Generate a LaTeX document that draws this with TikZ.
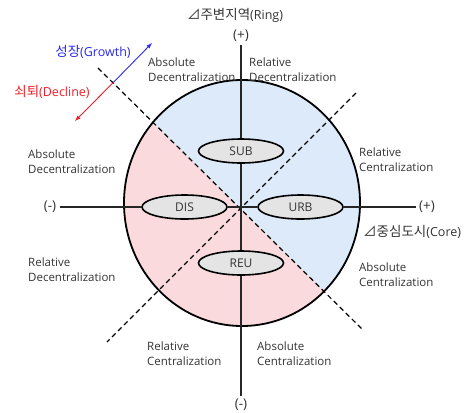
\documentclass[tikz,border=0pt]{standalone}
\usepackage{fontspec}
\setmainfont{Open Sans}
\newfontfamily\kr{Noto Sans CJK KR}
\usetikzlibrary{shapes.geometric}
\definecolor{ringblue}{RGB}{220,234,250}
\definecolor{corepink}{RGB}{250,218,220}
\definecolor{regiongray}{RGB}{228,228,228}
\definecolor{growthblue}{RGB}{40,40,240}
\definecolor{declinered}{RGB}{240,30,40}
\newcommand{\krtext}[1]{{\kr\fontsize{13.5}{15}\selectfont #1}}

\begin{document}
\begin{tikzpicture}[x=1pt, y=-1pt, font=\fontsize{11.5}{15}\selectfont,
  region/.style={ellipse, draw, line width=1.6pt, fill=regiongray, minimum width=85pt, minimum height=24pt, inner sep=0pt, font=\fontsize{12}{14}\selectfont, text=black!80},
  zone/.style={align=left, anchor=west, inner sep=0pt, text=black!80},
  sign/.style={font=\fontsize{13.5}{15}\selectfont, text=black!80},
  title/.style={font=\fontsize{12.5}{15}\selectfont, inner sep=0pt},
  axis/.style={line width=1.3pt, black!85},
  split/.style={line width=1.2pt, dash pattern=on 5pt off 3.5pt}]
\useasboundingbox (0,0) rectangle (472,413);
% the two halves of the circle
\begin{scope}
\clip (242,203) ellipse [x radius=118, y radius=123];
\fill[ringblue] (90,60) rectangle (380,340);
\fill[corepink] (98,68) -- (363,330) -- (90,330) -- cycle;
\end{scope}
\coordinate (A1) at (98,68);
\coordinate (A2) at (363,330);
\coordinate (B1) at (356,93);
\coordinate (B2) at (107,342);
\coordinate (gd) at (113,82.8);
\coordinate (gtip) at (152,43);
\coordinate (dtip) at (75,121);
\draw[split] (A1) -- (A2);
\draw[split] (B1) -- (B2);
\draw[line width=1.8pt] (242,203) ellipse [x radius=118, y radius=123];
% growth / decline
\draw[-latex, growthblue, line width=0.9pt] (gd) -- (gtip);
\draw[-latex, declinered, line width=0.9pt] (gd) -- (dtip);
\node[title, text=growthblue] (grow) at (93,52) {\krtext{성장}(Growth)};
\node[title, text=declinered] (decl) at (52,92) {\krtext{쇠퇴}(Decline)};
% axes
\node[sign] (pT) at (241,36) {(+)};
\node[sign] (mB) at (241,405) {(-)};
\node[sign] (mL) at (50,207) {(-)};
\node[sign] (pR) at (427,207) {(+)};
\node[title, text=black!80] (ring) at (235,15) {\krtext{⊿주변지역}(Ring)};
\node[title, anchor=west, text=black!80] (core) at (363,232) {\krtext{⊿중심도시}(Core)};
\node[region] (SUB) at (241,151) {SUB};
\node[region] (REU) at (241,263) {REU};
\node[region] (DIS) at (184.5,207) {DIS};
\node[region] (URB) at (300.5,207) {URB};
\draw[axis] (pT) -- (SUB);
\draw[axis] (SUB) -- (REU);
\draw[axis] (REU) -- (mB);
\draw[axis] (mL) -- (DIS);
\draw[axis] (DIS) -- (URB);
\draw[axis] (URB) -- (pR);
% zone texts
\node[zone] (ad1) at (148,69.5) {Absolute\\Decentralization};
\node[zone] (rd1) at (249,69.5) {Relative\\Decentralization};
\node[zone] (ad2) at (28,161.5) {Absolute\\Decentralization};
\node[zone] (rc1) at (359,160) {Relative\\Centralization};
\node[zone] (rd2) at (28,269.5) {Relative\\Decentralization};
\node[zone] (ac1) at (359,274.5) {Absolute\\Centralization};
\node[zone] (rc2) at (147,353.5) {Relative\\Centralization};
\node[zone] (ac2) at (257,353.5) {Absolute\\Centralization};
\end{tikzpicture}
\end{document}
